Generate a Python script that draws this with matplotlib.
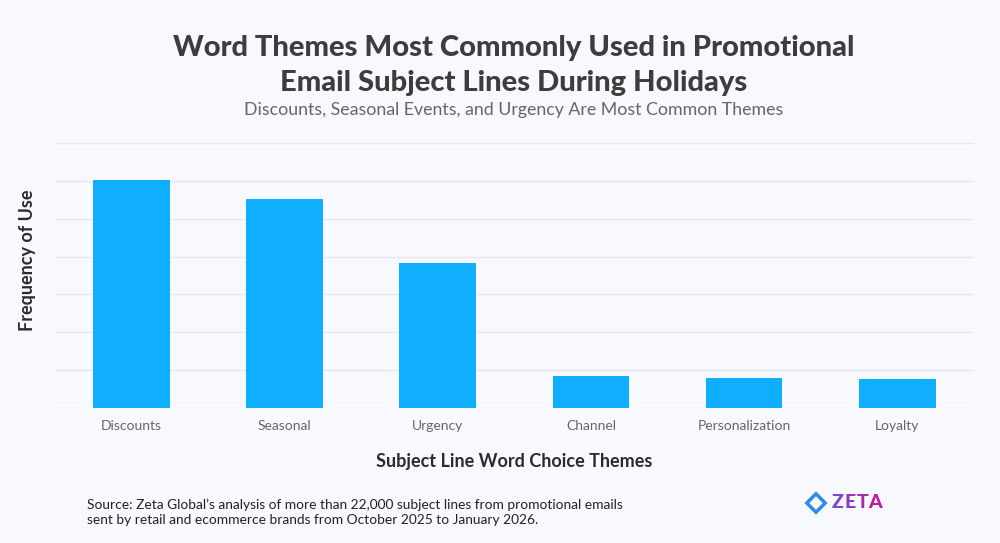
import matplotlib
matplotlib.use("Agg")
import matplotlib.pyplot as plt
from matplotlib.patches import Polygon

plt.rcParams['font.family'] = ['Lato', 'DejaVu Sans']

categories = ["Discounts", "Seasonal", "Urgency", "Channel", "Personalization", "Loyalty"]
values = [6.03, 5.53, 3.83, 0.85, 0.80, 0.75]

BG = "#F8F9FE"
BAR = "#10AEFF"

fig = plt.figure(figsize=(10, 5.43), dpi=100, facecolor=BG)
ax = fig.add_axes([0.0547, 0.249, 0.9193, 0.487])
ax.set_facecolor(BG)

x = list(range(len(categories)))
ax.bar(x, values, width=0.5, color=BAR, zorder=3)
ax.set_xlim(-0.5, len(categories) - 0.5)
ax.set_ylim(0, 7)
ax.set_yticks(range(0, 8))
ax.set_yticklabels([])
ax.tick_params(axis='y', length=0)
ax.tick_params(axis='x', length=0, pad=9, labelsize=10, labelcolor="#666666")
ax.set_xticks(x)
ax.set_xticklabels(categories)
ax.grid(axis='y', color="#E6E8EE", linewidth=1, zorder=0)
for s in ax.spines.values():
    s.set_visible(False)

fig.text(0.514, 1 - 56 / 543, "Word Themes Most Commonly Used in Promotional",
         ha='center', va='baseline', fontsize=21, fontweight='black', color="#3D3D3D")
fig.text(0.514, 1 - 91.5 / 543, "Email Subject Lines During Holidays",
         ha='center', va='baseline', fontsize=21, fontweight='black', color="#3D3D3D")
fig.text(0.514, 1 - 115 / 543, "Discounts, Seasonal Events, and Urgency Are Most Common Themes",
         ha='center', va='baseline', fontsize=12.8, fontweight='normal', color="#666666")
fig.text(0.514, 0.151, "Subject Line Word Choice Themes", ha='center', va='center',
         fontsize=13, fontweight='bold', color="#2B2B2B")
fig.text(0.027, 0.52, "Frequency of Use", ha='center', va='center', rotation=90,
         fontsize=13, fontweight='bold', color="#2B2B2B")
fig.text(0.087, 0.056, "Source: Zeta Global\u2019s analysis of more than 22,000 subject lines from promotional emails\nsent by retail and ecommerce brands from October 2025 to January 2026.",
         ha='left', va='center', fontsize=9.9, color="#222222", linespacing=1.3)

# logo
cx, cy = 0.816, 1 - 503 / 543
dx, dy = 0.0092, 0.017
diamond = Polygon([[cx - dx, cy], [cx, cy + dy], [cx + dx, cy], [cx, cy - dy]], closed=True,
                  fill=False, edgecolor="#2A8CF0", linewidth=2.5, transform=fig.transFigure)
fig.patches.append(diamond)
letters = ["Z", "E", "T", "A"]
cols = ["#7A45D6", "#9135C4", "#A827B0", "#BE1A9E"]
lx = [0.832, 0.845, 0.857, 0.868]
for l, c, xx in zip(letters, cols, lx):
    fig.text(xx, cy, l, ha='left', va='center', fontsize=14, fontweight='black', color=c)

fig.savefig("out.png", dpi=100, facecolor=BG)
